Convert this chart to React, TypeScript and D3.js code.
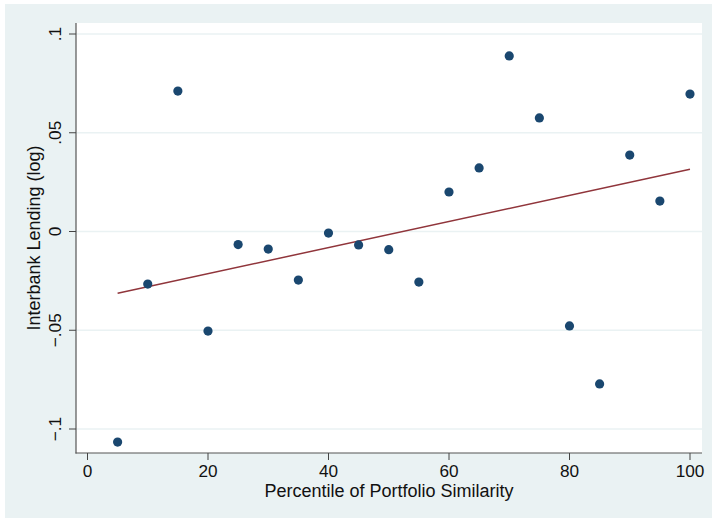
import React from "react";
import * as d3 from "d3";

const percentiles = [5, 10, 15, 20, 25, 30, 35, 40, 45, 50, 55, 60, 65, 70, 75, 80, 85, 90, 95, 100];
const lending = [
  -0.1066, -0.0266, 0.0711, -0.0504, -0.0066, -0.0089, -0.0246, -0.0008, -0.0068, -0.0092,
  -0.0256, 0.0200, 0.0322, 0.0889, 0.0575, -0.0478, -0.0772, 0.0387, 0.0154, 0.0696,
];
const xTicks = [0, 20, 40, 60, 80, 100];
const yTicks = [-0.1, -0.05, 0, 0.05, 0.1];
const yTickLabels = ["\u2212.1", "\u2212.05", "0", ".05", ".1"];
const xTitle = "Percentile of Portfolio Similarity";
const yTitle = "Interbank Lending (log)";

const W = 716;
const H = 522;
const plot = { left: 76, right: 702, top: 23, bottom: 453 };
const BG = "#EAF2F3";
const FONT = "'Liberation Sans', Arial, sans-serif";

export default function App() {
  const x = d3.scaleLinear().domain([0, 100]).range([87.5, 690]);
  const y = d3.scaleLinear().domain([-0.1, 0.1]).range([429, 34]);

  const mx = d3.mean(percentiles) as number;
  const my = d3.mean(lending) as number;
  let sxy = 0;
  let sxx = 0;
  percentiles.forEach((p, i) => {
    sxy += (p - mx) * (lending[i] - my);
    sxx += (p - mx) * (p - mx);
  });
  const b = sxy / sxx;
  const a = my - b * mx;
  const xMin = d3.min(percentiles) as number;
  const xMax = d3.max(percentiles) as number;
  const fit: [number, number][] = [
    [xMin, a + b * xMin],
    [xMax, a + b * xMax],
  ];
  const line = d3
    .line<[number, number]>()
    .x((d) => x(d[0]))
    .y((d) => y(d[1]));

  const cy = (plot.top + plot.bottom) / 2;
  const cx = (plot.left + plot.right) / 2;

  return (
    <div style={{ position: "absolute", left: 0, top: 0 }}>
      <svg width={W} height={H} style={{ display: "block" }}>
        <rect x={0} y={0} width={W} height={H} fill="#ffffff" />
        <rect x={5} y={4} width={707} height={514} fill={BG} />
        <rect
          x={plot.left}
          y={plot.top}
          width={plot.right - plot.left}
          height={plot.bottom - plot.top}
          fill="#ffffff"
        />
        {yTicks.map((t) => (
          <line
            key={"g" + t}
            x1={plot.left}
            x2={plot.right}
            y1={y(t)}
            y2={y(t)}
            stroke={BG}
            strokeWidth={1.5}
          />
        ))}
        <path d={line(fit) || ""} fill="none" stroke="#90353B" strokeWidth={1.5} />
        {percentiles.map((p, i) => (
          <circle key={"p" + p} cx={x(p)} cy={y(lending[i])} r={4.6} fill="#1A476F" />
        ))}
        <line x1={plot.left} x2={plot.left} y1={plot.top} y2={plot.bottom + 0.5} stroke="#555" strokeWidth={1.2} />
        <line x1={plot.left - 0.5} x2={plot.right} y1={plot.bottom} y2={plot.bottom} stroke="#555" strokeWidth={1.2} />
        {xTicks.map((t) => (
          <g key={"x" + t}>
            <line x1={x(t)} x2={x(t)} y1={plot.bottom} y2={plot.bottom + 7} stroke="#444" strokeWidth={1} />
            <text x={x(t)} y={477} textAnchor="middle" fontFamily={FONT} fontSize={17.2} fill="#111">
              {t}
            </text>
          </g>
        ))}
        {yTicks.map((t, i) => (
          <g key={"y" + t}>
            <line x1={plot.left - 7} x2={plot.left} y1={y(t)} y2={y(t)} stroke="#444" strokeWidth={1} />
            <text
              transform={`translate(61,${y(t)}) rotate(-90)`}
              textAnchor="middle"
              fontFamily={FONT}
              fontSize={17.2}
              fill="#111"
            >
              {yTickLabels[i]}
            </text>
          </g>
        ))}
        <text x={cx} y={497} textAnchor="middle" fontFamily={FONT} fontSize={18} fill="#111">
          {xTitle}
        </text>
        <text
          transform={`translate(40,${cy}) rotate(-90)`}
          textAnchor="middle"
          fontFamily={FONT}
          fontSize={18}
          fill="#111"
        >
          {yTitle}
        </text>
      </svg>
    </div>
  );
}
